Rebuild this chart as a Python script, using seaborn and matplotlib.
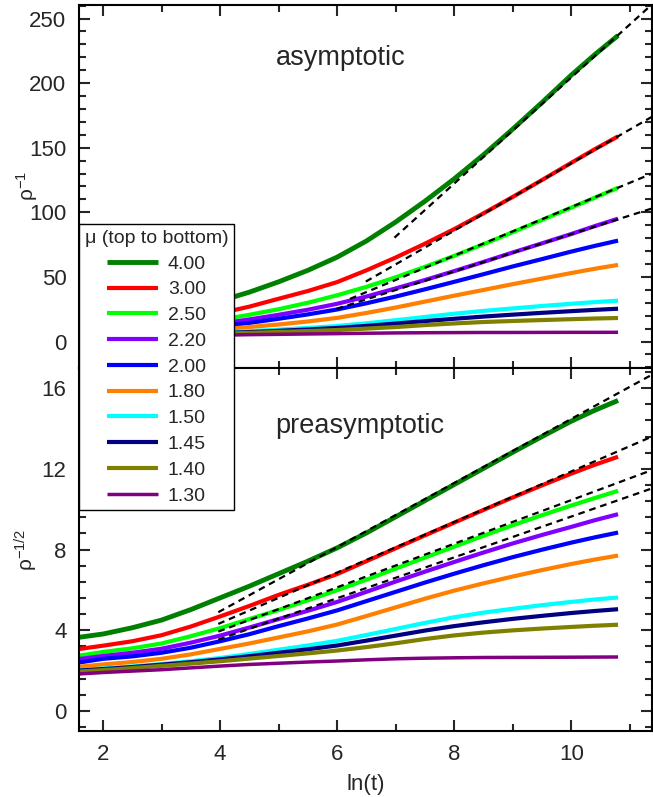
import numpy as np
import pandas as pd
import matplotlib
matplotlib.use("Agg")
import matplotlib.pyplot as plt
from matplotlib.ticker import MultipleLocator
import seaborn as sns

# ---------------- data ----------------
ln_t = [1.6, 2.0, 2.5, 3.0, 3.5, 4.0, 4.5, 5.0, 5.5, 6.0,
        6.5, 7.0, 7.5, 8.0, 8.5, 9.0, 9.5, 10.0, 10.4, 10.8]
mu_labels = ["4.00", "3.00", "2.50", "2.20", "2.00", "1.80", "1.50", "1.45", "1.40", "1.30"]
mu_colors = ["#008000", "#FF0000", "#00FF00", "#8000FF", "#0000FF",
             "#FF8000", "#00FFFF", "#000080", "#808000", "#800080"]

# rho^{-1} (top panel)
inv_rho_400 = [13.3, 14.5, 17.0, 20.25, 25.2, 31.4, 38.2, 46.2, 55.1, 65.3,
               77.8, 92.5, 108.6, 125.9, 144.5, 164.4, 185.0, 206.2, 222.0, 236.9]
inv_rho_300 = [9.4, 10.4, 11.9, 14.1, 17.5, 21.9, 27.0, 33.1, 39.1, 46.0,
               55.1, 65.0, 75.7, 87.0, 99.2, 111.9, 125.0, 138.3, 148.8, 158.8]
inv_rho_250 = [7.5, 8.5, 9.6, 11.2, 13.7, 16.8, 20.7, 25.0, 30.0, 35.8,
               42.3, 49.7, 57.8, 66.3, 75.3, 84.6, 94.1, 103.6, 111.3, 119.0]
inv_rho_220 = [6.6, 7.4, 8.3, 9.5, 11.4, 13.9, 17.1, 20.7, 24.6, 29.2,
               34.8, 41.1, 47.6, 54.5, 61.6, 68.9, 76.0, 83.2, 89.3, 95.1]
inv_rho_200 = [5.8, 6.7, 7.3, 8.3, 9.8, 11.9, 14.4, 17.6, 21.0, 24.8,
               29.6, 34.8, 40.4, 46.2, 52.1, 58.1, 63.8, 69.6, 74.0, 78.1]
inv_rho_180 = [4.8, 5.3, 5.9, 6.7, 7.8, 9.4, 11.2, 13.2, 15.5, 18.3,
               22.1, 26.3, 30.9, 35.5, 39.9, 44.4, 48.7, 53.0, 56.3, 59.3]
inv_rho_150 = [4.1, 4.4, 4.8, 5.4, 6.1, 6.9, 8.0, 9.2, 10.5, 12.0,
               14.1, 16.5, 19.0, 21.5, 23.7, 25.6, 27.5, 29.2, 30.5, 31.6]
inv_rho_145 = [4.0, 4.3, 4.7, 5.2, 5.8, 6.5, 7.3, 8.3, 9.3, 10.5,
               12.1, 13.9, 15.8, 17.6, 19.3, 20.8, 22.2, 23.5, 24.5, 25.4]
inv_rho_140 = [3.8, 4.1, 4.5, 5.0, 5.5, 6.05, 6.7, 7.4, 8.1, 8.9,
               10.0, 11.2, 12.7, 14.0, 15.1, 15.9, 16.6, 17.3, 17.8, 18.2]
inv_rho_130 = [3.35, 3.6, 3.9, 4.15, 4.55, 4.9, 5.3, 5.55, 5.85, 6.1,
               6.4, 6.65, 6.8, 6.9, 7.0, 7.0, 7.05, 7.1, 7.1, 7.15]

# rho^{-1/2} (bottom panel)
inv_sqrt_400 = [3.65, 3.81, 4.12, 4.5, 5.02, 5.6, 6.18, 6.8, 7.42, 8.08,
                8.82, 9.62, 10.42, 11.22, 12.02, 12.82, 13.6, 14.36, 14.9, 15.39]
inv_sqrt_300 = [3.07, 3.23, 3.45, 3.75, 4.18, 4.68, 5.2, 5.75, 6.25, 6.78,
                7.42, 8.06, 8.7, 9.33, 9.96, 10.58, 11.18, 11.76, 12.2, 12.6]
inv_sqrt_250 = [2.74, 2.92, 3.1, 3.34, 3.7, 4.1, 4.55, 5.0, 5.48, 5.98,
                6.5, 7.05, 7.6, 8.14, 8.68, 9.2, 9.7, 10.18, 10.55, 10.91]
inv_sqrt_220 = [2.57, 2.72, 2.88, 3.08, 3.38, 3.73, 4.13, 4.55, 4.96, 5.4,
                5.9, 6.41, 6.9, 7.38, 7.85, 8.3, 8.72, 9.12, 9.45, 9.75]
inv_sqrt_200 = [2.4, 2.58, 2.7, 2.88, 3.13, 3.45, 3.8, 4.2, 4.58, 4.98,
                5.44, 5.9, 6.36, 6.8, 7.22, 7.62, 7.99, 8.34, 8.6, 8.84]
inv_sqrt_180 = [2.19, 2.3, 2.42, 2.58, 2.8, 3.07, 3.34, 3.64, 3.94, 4.28,
                4.7, 5.13, 5.56, 5.96, 6.32, 6.66, 6.98, 7.28, 7.5, 7.7]
inv_sqrt_150 = [2.02, 2.1, 2.2, 2.32, 2.46, 2.62, 2.82, 3.03, 3.24, 3.47,
                3.76, 4.06, 4.36, 4.64, 4.87, 5.06, 5.24, 5.4, 5.52, 5.62]
inv_sqrt_145 = [2.0, 2.07, 2.17, 2.29, 2.41, 2.55, 2.71, 2.88, 3.05, 3.24,
                3.48, 3.73, 3.98, 4.2, 4.39, 4.56, 4.71, 4.85, 4.95, 5.04]
inv_sqrt_140 = [1.95, 2.02, 2.12, 2.23, 2.34, 2.46, 2.59, 2.72, 2.85, 2.99,
                3.16, 3.35, 3.56, 3.74, 3.88, 3.99, 4.08, 4.16, 4.22, 4.27]
inv_sqrt_130 = [1.83, 1.9, 1.97, 2.04, 2.13, 2.22, 2.3, 2.36, 2.42, 2.47,
                2.53, 2.58, 2.61, 2.63, 2.645, 2.65, 2.655, 2.66, 2.665, 2.67]

# dashed linear fits (start / end points)
top_fit_x0 = [6.98, 6.49, 6.22, 5.99]
top_fit_y0 = [80.4, 46.4, 33.0, 25.3]
top_fit_x1 = [11.38, 11.38, 11.38, 11.38]
top_fit_y1 = [261.0, 174.0, 130.0, 103.0]
bot_fit_x0 = [3.97, 3.97, 3.97, 3.97]
bot_fit_y0 = [4.89, 4.31, 3.93, 3.53]
bot_fit_x1 = [11.38, 11.38, 11.38, 11.38]
bot_fit_y1 = [16.67, 13.6, 11.94, 11.03]

top_series = [inv_rho_400, inv_rho_300, inv_rho_250, inv_rho_220, inv_rho_200,
              inv_rho_180, inv_rho_150, inv_rho_145, inv_rho_140, inv_rho_130]
bot_series = [inv_sqrt_400, inv_sqrt_300, inv_sqrt_250, inv_sqrt_220, inv_sqrt_200,
              inv_sqrt_180, inv_sqrt_150, inv_sqrt_145, inv_sqrt_140, inv_sqrt_130]
line_widths = [3.5, 3.0, 3.0, 3.0, 3.0, 3.0, 3.0, 3.0, 3.0, 2.5]

# ---------------- style ----------------
sns.set_style("ticks")
plt.rcParams['font.family'] = ['Liberation Sans', 'DejaVu Sans']
plt.rcParams['mathtext.fontset'] = 'custom'
plt.rcParams['mathtext.rm'] = 'Liberation Sans'
plt.rcParams['mathtext.it'] = 'Liberation Sans'
plt.rcParams['axes.linewidth'] = 1.5

W, H = 653, 797
fig = plt.figure(figsize=(W / 100, H / 100), dpi=100)
left, right = 79 / W, 652 / W
y_top, y_mid, y_bot = 1 - 5 / H, 1 - 368 / H, 1 - 731 / H
ax_top = fig.add_axes([left, y_mid, right - left, y_top - y_mid])
ax_bot = fig.add_axes([left, y_bot, right - left, y_mid - y_bot])

handles = []
for i, lab in enumerate(mu_labels):
    df_t = pd.DataFrame({"ln_t": ln_t, "val": top_series[i]})
    df_b = pd.DataFrame({"ln_t": ln_t, "val": bot_series[i]})
    sns.lineplot(data=df_t, x="ln_t", y="val", ax=ax_top, color=mu_colors[i],
                 lw=line_widths[i], sort=False, estimator=None, zorder=2)
    ax_top.lines[-1].set_solid_capstyle("butt")
    handles.append(ax_top.lines[-1])
    sns.lineplot(data=df_b, x="ln_t", y="val", ax=ax_bot, color=mu_colors[i],
                 lw=line_widths[i], sort=False, estimator=None, zorder=2)
    ax_bot.lines[-1].set_solid_capstyle("butt")

for j in range(len(top_fit_x0)):
    df = pd.DataFrame({"ln_t": [top_fit_x0[j], top_fit_x1[j]],
                       "val": [top_fit_y0[j], top_fit_y1[j]]})
    sns.lineplot(data=df, x="ln_t", y="val", ax=ax_top, color="black", lw=1.6,
                 linestyle=(0, (3, 2.2)), estimator=None, sort=False, zorder=3)
    df = pd.DataFrame({"ln_t": [bot_fit_x0[j], bot_fit_x1[j]],
                       "val": [bot_fit_y0[j], bot_fit_y1[j]]})
    sns.lineplot(data=df, x="ln_t", y="val", ax=ax_bot, color="black", lw=1.6,
                 linestyle=(0, (3, 2.2)), estimator=None, sort=False, zorder=3)

for ax in (ax_top, ax_bot):
    ax.set_xlim(1.59, 11.38)
    ax.xaxis.set_major_locator(MultipleLocator(2))
    ax.xaxis.set_minor_locator(MultipleLocator(1))
    ax.tick_params(which='both', direction='in', top=True, right=True,
                   width=1.5, labelsize=16)
    ax.tick_params(which='major', length=8)
    ax.tick_params(which='minor', length=5)
    ax.tick_params(axis='y', pad=9)
    ax.tick_params(axis='x', pad=9)
    for s in ax.spines.values():
        s.set_linewidth(1.5)
        s.set_color("black")

label_x = (40 - 79) / (652 - 79)

ax_top.set_ylim(-20.5, 260.5)
ax_top.yaxis.set_major_locator(MultipleLocator(50))
ax_top.yaxis.set_minor_locator(MultipleLocator(10))
ax_top.tick_params(labelbottom=False)
ax_top.set_xlabel("")
ax_top.set_ylabel("ρ$^{-1}$", fontsize=15)
ax_top.yaxis.set_label_coords(label_x, 0.5)

ax_bot.set_ylim(-1.0, 17.0)
ax_bot.yaxis.set_major_locator(MultipleLocator(4))
ax_bot.yaxis.set_minor_locator(MultipleLocator(0.8))
ax_bot.set_xlabel("ln(t)", fontsize=16, labelpad=7)
ax_bot.set_ylabel("ρ$^{-1/2}$", fontsize=15)
ax_bot.yaxis.set_label_coords(label_x, 0.5)

ax_top.text(4.96, 214, "asymptotic", fontsize=19.5, va="baseline", ha="left")
ax_bot.text(4.95, 13.8, "preasymptotic", fontsize=19.5, va="baseline", ha="left")

leg = fig.legend(handles, mu_labels, title="μ (top to bottom)",
                 loc="upper left", bbox_to_anchor=(79 / W, 1 - 224 / H),
                 bbox_transform=fig.transFigure, frameon=True, fancybox=False,
                 edgecolor="black", framealpha=1, borderaxespad=0,
                 handlelength=2.6, handletextpad=0.5, labelspacing=0.42,
                 borderpad=0.3, fontsize=14, title_fontsize=14)
leg.get_frame().set_linewidth(1.0)

fig.savefig("out.png", dpi=100)
